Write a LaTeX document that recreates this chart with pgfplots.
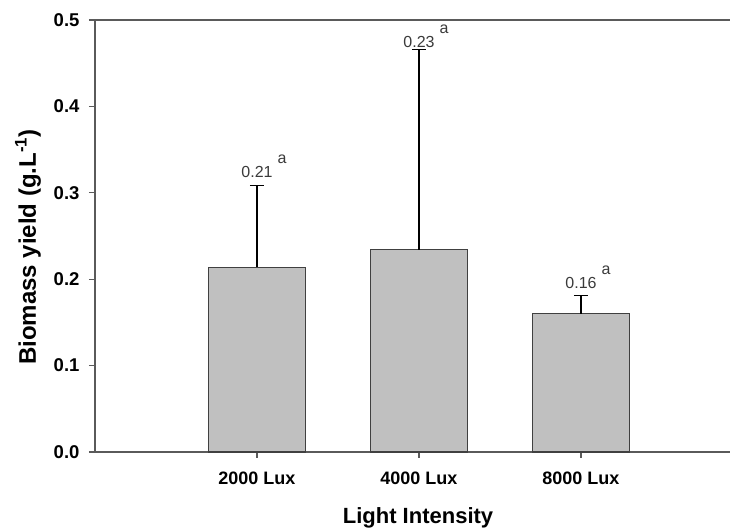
\documentclass[border=0pt]{standalone}
\usepackage{pgfplots}
\pgfplotsset{compat=1.18}
\usepackage{fontspec}
\setmainfont{Liberation Sans}
\definecolor{barfill}{HTML}{C0C0C0}
\definecolor{baredge}{HTML}{404040}
\definecolor{axgray}{HTML}{5A5A5A}
\definecolor{lblgray}{HTML}{3A3A3A}
\begin{document}
\begin{tikzpicture}
\begin{axis}[
  scale only axis, width=635pt, height=432pt,
  xmin=0, xmax=3.92, ymin=0, ymax=0.5,
  axis lines*=left,
  axis line style={axgray, line width=1.4pt},
  xtick={1,2,3}, xticklabels={2000 Lux,4000 Lux,8000 Lux},
  ytick={0,0.1,0.2,0.3,0.4,0.5},
  tick align=outside,
  major tick length=6pt,
  tick style={axgray, line width=1.2pt},
  yticklabel style={font=\fontsize{18.5}{21}\selectfont\bfseries, xshift=-6pt},
  xticklabel style={font=\fontsize{18}{21}\selectfont\bfseries, anchor=base, yshift=-26pt},
  /pgf/number format/.cd, fixed, fixed zerofill, precision=1, assume math mode=true,
  /pgfplots/.cd,
  xlabel={Light Intensity},
  ylabel={Biomass yield (g.L\textsuperscript{-1})},
  label style={font=\fontsize{22}{26}\selectfont\bfseries},
  xlabel style={at={(axis description cs:0.5087,-0.1644)}, anchor=base},
  ylabel style={at={(axis description cs:-0.1055,0.4745)}, anchor=center, font=\fontsize{24}{28}\selectfont\bfseries},
  clip=false,
]
\addplot[ybar, bar width=0.6, fill=barfill, draw=baredge, line width=1.2pt,
  error bars/.cd, y dir=plus, y explicit,
  error bar style={black, line width=1.1pt},
  error mark options={rotate=90, mark size=7pt, black, line width=1.1pt}]
  coordinates {(1,0.214) +- (0,0.094) (2,0.234) +- (0,0.232) (3,0.160) +- (0,0.021)};
\addplot[only marks, mark=none, point meta=explicit symbolic,
  nodes near coords={\pgfplotspointmeta\rlap{\hspace{5pt}\raisebox{14pt}{a}}},
  nodes near coords style={anchor=base, inner sep=0pt, text=lblgray, font=\fontsize{16}{19}\selectfont}]
  coordinates {(1,0.318) [0.21] (2,0.4676) [0.23] (3,0.1887) [0.16]};
\draw[axgray, line width=1.4pt] (rel axis cs:0,1) -- (rel axis cs:1,1);
\coordinate (bl) at (rel axis cs:0,0);
\coordinate (tr) at (rel axis cs:1,1);
\end{axis}
\pgfresetboundingbox
\path[use as bounding box] ([xshift=-95pt,yshift=-77pt]bl) rectangle ([yshift=20pt]tr);
\end{tikzpicture}
\end{document}
